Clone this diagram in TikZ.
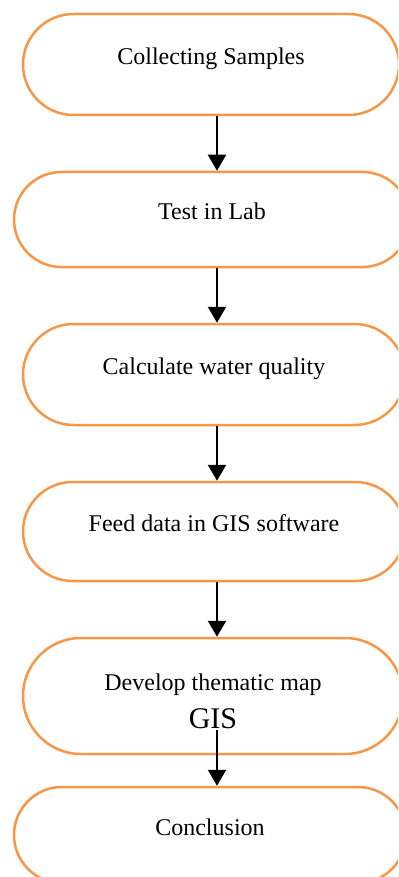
\documentclass[tikz,border=0pt]{standalone}
\usepackage{fontspec}
\setmainfont{Liberation Serif}
\usetikzlibrary{arrows.meta, shapes.misc}
\definecolor{stepline}{HTML}{F79646}

\begin{document}
\begin{tikzpicture}[
		x=0.5pt,
		y=-0.5pt,
		stepbox/.style={rounded rectangle, draw=stepline, line width=1.25pt,
			inner sep=0pt, font=\fontsize{12pt}{14.4pt}\selectfont,
			text height=8pt, text depth=8pt},
		flow/.style={draw, line width=1.2pt, -{Triangle[width=9pt,length=8pt]}}
	]

	% Page frame
	\useasboundingbox (0,0) rectangle (398,877);
	\clip (0,0) rectangle (398,877);

	% Steps, top to bottom
	\node[stepbox, minimum width=188pt, minimum height=50.5pt] (collect) at (211,64.5) {Collecting Samples};
	\node[stepbox, minimum width=198pt, minimum height=47.5pt] (lab) at (212,219.5) {Test in Lab};
	\node[stepbox, minimum width=191pt, minimum height=50.5pt] (calc) at (214,374.5) {Calculate water quality};
	\node[stepbox, minimum width=191pt, minimum height=49.5pt] (feed) at (214,531.5) {Feed data in GIS software};
	\node[stepbox, minimum width=190pt, minimum height=58pt,
		align=center, text height=32pt, text depth=0pt] (develop) at (213,696)
		{Develop thematic map\\[4.6pt]{\fontsize{15pt}{18pt}\selectfont GIS}};
	\node[stepbox, minimum width=196pt, minimum height=48pt] (concl) at (210,835) {Conclusion};

	% Arrows
	\coordinate (axis) at (217,0);
	\coordinate (gisfoot) at (217,730);
	\foreach \a/\b in {collect/lab, lab/calc, calc/feed, feed/develop} {
		\draw[flow] (\a.south -| axis) -- (\b.north -| axis);
	}
	\draw[flow] (gisfoot) -- (concl.north -| axis);

\end{tikzpicture}
\end{document}
